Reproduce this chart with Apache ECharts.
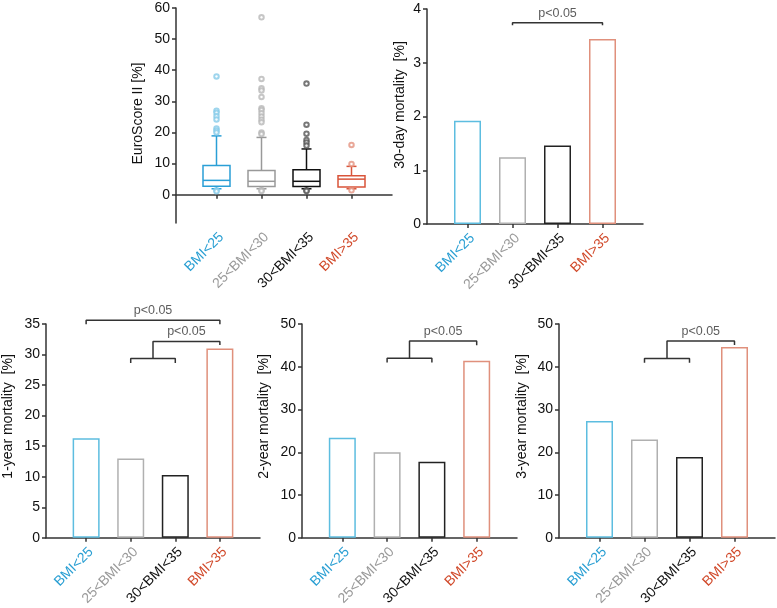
<!DOCTYPE html>
<html>
<head>
<meta charset="utf-8">
<script src="https://cdn.jsdelivr.net/npm/echarts@6/dist/echarts.min.js"></script>
<style>html,body{margin:0;background:#fff}#container{width:777px;height:608px}</style>
</head>
<body>
<div id="container"></div>
<script>
var dom = document.getElementById("container");
var myChart = echarts.init(dom);

var categories = ['BMI<25', '25<BMI<30', '30<BMI<35', 'BMI>35'];
var catPos = [1, 2, 3, 4];

// EuroScore II boxes: [low, q1, median, q3, high]
var euroBoxes = [
    [1.9, 2.7, 4.6, 9.4, 18.9],
    [1.9, 2.6, 4.3, 7.8, 18.4],
    [1.9, 2.6, 4.3, 8.0, 14.7],
    [1.9, 2.5, 5.0, 6.1, 9.1]
];
var euroOutliers = [
    [38.0, 27.0, 26.3, 25.2, 24.2, 21.3, 20.6, 20.0, 1.4, 1.1],
    [57.0, 37.2, 34.2, 33.5, 31.4, 27.8, 27.2, 26.2, 25.1, 24.1, 23.3, 20.0, 19.5, 1.5, 1.2],
    [35.7, 22.5, 19.6, 17.6, 16.8, 15.8, 1.4, 1.2],
    [16.0, 9.9, 1.4]
];

var mort30d = [1.92, 1.24, 1.46, 3.44];
var mort1y = [16.3, 13.0, 10.3, 31.0];
var mort2y = [23.4, 20.0, 17.8, 41.4];
var mort3y = [27.3, 23.0, 18.9, 44.6];

// significance brackets, [category position, value]
var brk30d = [[[2, 3.70], [2, 3.745], [4, 3.745], [4, 3.70]]];
var brk30dLabels = [[3, 3.745]];
var brk1y = [
    [[1, 34.95], [1, 35.6], [4, 35.6], [4, 34.95]],
    [[2.5, 29.35], [2.5, 32.15], [4, 32.15], [4, 31.55]],
    [[2, 28.6], [2, 29.35], [3, 29.35], [3, 28.6]]
];
var brk1yLabels = [[2.5, 35.6], [3.25, 32.15]];
var brk2y = [
    [[2.5, 42.0], [2.5, 46.0], [4, 46.0], [4, 45.05]],
    [[2, 40.97], [2, 42.0], [3, 42.0], [3, 40.97]]
];
var brk2yLabels = [[3.25, 46.0]];
var brk3y = [
    [[2.5, 41.96], [2.5, 46.0], [4, 46.0], [4, 45.1]],
    [[2, 40.96], [2, 41.96], [3, 41.96], [3, 40.96]]
];
var brk3yLabels = [[3.25, 46.0]];

var labelColors = ['#2a9fd3', '#9a9a9a', '#111111', '#d14a2b'];
var boxColors = ['#2a9fd6', '#999999', '#111111', '#d9543a'];
var dotColors = ['#86cbe8', '#b8b8b8', '#555555', '#e4927f'];
var barColors = ['#5dbde0', '#b0b0b0', '#222222', '#e0907c'];
var axisColor = '#333';
var font = 'Liberation Sans, Arial, sans-serif';

var rich = {};
labelColors.forEach(function (c, i) {
    rich['c' + i] = {color: c, fontSize: 14, fontFamily: font};
});

function makeX(gi) {
    return {
        type: 'value', gridIndex: gi, min: 0.1, max: 4.9,
        splitLine: {show: false},
        axisLine: {lineStyle: {color: axisColor, width: 1.5}},
        axisTick: {customValues: catPos, length: 4, lineStyle: {color: axisColor, width: 1.5}},
        axisLabel: {
            customValues: catPos, rotate: 45, margin: 7, verticalAlign: 'top',
            formatter: function (v) {
                var i = Math.round(v) - 1;
                return '{c' + i + '|' + categories[i] + '}';
            },
            rich: rich
        }
    };
}

function makeY(gi, name, min, max, interval, gap, shift, ticks) {
    var y = {
        type: 'value', gridIndex: gi, min: min, max: max,
        name: name, nameLocation: 'middle', nameGap: gap,
        nameTextStyle: {color: '#111', fontSize: 14, fontFamily: font, padding: [0, 0, 0, shift]},
        splitLine: {show: false},
        axisLine: {show: true, lineStyle: {color: axisColor, width: 1.5}},
        axisTick: {show: true, length: 4, lineStyle: {color: axisColor, width: 1.5}},
        axisLabel: {color: '#111', fontSize: 14, fontFamily: font, margin: 6}
    };
    if (ticks) {
        y.axisTick.customValues = ticks;
        y.axisLabel.customValues = ticks;
    } else {
        y.interval = interval;
    }
    return y;
}

function barSeries(gi, values) {
    return {
        type: 'bar', xAxisIndex: gi, yAxisIndex: gi, barWidth: 27,
        data: values.map(function (v, i) {
            return {value: [catPos[i], v], itemStyle: {color: '#fff', borderColor: barColors[i], borderWidth: 1.5}};
        }),
        z: 2
    };
}

function bracketSeries(gi, brks, labels) {
    var out = brks.map(function (b) {
        return {
            type: 'line', xAxisIndex: gi, yAxisIndex: gi, data: b, symbol: 'none', clip: false,
            lineStyle: {color: '#333', width: 1.5}, z: 3
        };
    });
    out.push({
        type: 'scatter', xAxisIndex: gi, yAxisIndex: gi, data: labels, symbolSize: 0, clip: false,
        label: {show: true, position: 'top', distance: 3, formatter: 'p<0.05',
            color: '#333', fontSize: 12.5, fontFamily: font}
    });
    return out;
}

var series = [];

series.push({
    type: 'custom', xAxisIndex: 0, yAxisIndex: 0,
    data: euroBoxes.map(function (b, i) { return [catPos[i]].concat(b); }),
    renderItem: function (params, api) {
        var x = api.value(0);
        var p = function (d) { return api.coord([x, api.value(d)]); };
        var low = p(1), q1 = p(2), med = p(3), q3 = p(4), high = p(5);
        var hw = 13.5, cw = 5;
        var c = boxColors[params.dataIndex];
        var st = {stroke: c, lineWidth: 1.5, fill: null};
        return {
            type: 'group',
            children: [
                {type: 'line', shape: {x1: high[0], y1: high[1], x2: q3[0], y2: q3[1]}, style: st},
                {type: 'line', shape: {x1: low[0], y1: low[1], x2: q1[0], y2: q1[1]}, style: st},
                {type: 'line', shape: {x1: high[0] - cw, y1: high[1], x2: high[0] + cw, y2: high[1]}, style: st},
                {type: 'line', shape: {x1: low[0] - cw, y1: low[1], x2: low[0] + cw, y2: low[1]}, style: st},
                {type: 'rect', shape: {x: q3[0] - hw, y: q3[1], width: 2 * hw, height: q1[1] - q3[1]},
                    style: {stroke: c, lineWidth: 1.5, fill: '#fff'}},
                {type: 'line', shape: {x1: med[0] - hw, y1: med[1], x2: med[0] + hw, y2: med[1]}, style: st}
            ]
        };
    },
    z: 2
});
euroOutliers.forEach(function (arr, i) {
    series.push({
        type: 'scatter', xAxisIndex: 0, yAxisIndex: 0, symbol: 'emptyCircle', symbolSize: 4.5,
        itemStyle: {color: dotColors[i], borderWidth: 0.8},
        data: arr.map(function (v) { return [catPos[i], v]; }),
        z: 3
    });
});

series.push(barSeries(1, mort30d));
series.push(barSeries(2, mort1y));
series.push(barSeries(3, mort2y));
series.push(barSeries(4, mort3y));
series = series.concat(bracketSeries(1, brk30d, brk30dLabels));
series = series.concat(bracketSeries(2, brk1y, brk1yLabels));
series = series.concat(bracketSeries(3, brk2y, brk2yLabels));
series = series.concat(bracketSeries(4, brk3y, brk3yLabels));

var option = {
    animation: false,
    backgroundColor: '#fff',
    textStyle: {fontFamily: font},
    grid: [
        {left: 176, top: 8, width: 216, height: 215},
        {left: 427, top: 9, width: 216, height: 215},
        {left: 46, top: 324, width: 214, height: 216.5},
        {left: 302, top: 324, width: 215, height: 216},
        {left: 559, top: 324, width: 216, height: 216}
    ],
    xAxis: [makeX(0), makeX(1), makeX(2), makeX(3), makeX(4)],
    yAxis: [
        makeY(0, 'EuroScore II [%]', -9.1, 60, null, 31, 4, [0, 10, 20, 30, 40, 50, 60]),
        makeY(1, '30-day mortality  [%]', 0, 4, 1, 20, 23),
        makeY(2, '1-year mortality  [%]', 0, 35, 5, 31, 29),
        makeY(3, '2-year mortality  [%]', 0, 50, 10, 31, 29),
        makeY(4, '3-year mortality  [%]', 0, 50, 10, 30, 29)
    ],
    series: series
};

myChart.setOption(option);
</script>
</body>
</html>
